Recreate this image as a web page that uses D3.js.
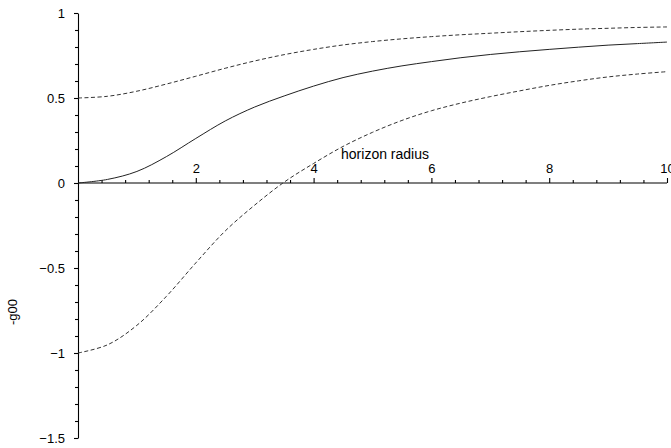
<!DOCTYPE html>
<html>
<head>
<meta charset="utf-8">
<script src="https://cdn.jsdelivr.net/npm/d3@7"></script>
<style>
    body { margin: 0; background: #fff; }
    svg { display: block; font-family: "Liberation Sans", Arial, sans-serif; }
</style>
</head>
<body>
<svg id="chart"></svg>
<script>
const radius = [0, 0.5, 1, 1.5, 2, 2.5, 3, 3.5, 4, 4.5, 5, 5.5, 6, 6.5, 7, 7.5, 8, 8.5, 9, 9.5, 10];
const g00 = [0, 0.021, 0.068, 0.155, 0.262, 0.365, 0.447, 0.512, 0.57, 0.62, 0.658, 0.689, 0.714, 0.737, 0.756, 0.772, 0.786, 0.799, 0.811, 0.82, 0.829];
const upper = [0.5, 0.51, 0.54, 0.582, 0.628, 0.675, 0.718, 0.755, 0.786, 0.812, 0.832, 0.848, 0.861, 0.872, 0.881, 0.89, 0.898, 0.905, 0.91, 0.915, 0.918];
const lower = [-1, -0.952, -0.837, -0.667, -0.47, -0.282, -0.13, 0.005, 0.115, 0.215, 0.298, 0.368, 0.425, 0.47, 0.508, 0.542, 0.574, 0.601, 0.624, 0.641, 0.655];

const xTicks = [2, 4, 6, 8, 10];
const yTicks = [-1.5, -1, -0.5, 0, 0.5, 1];

const width = 671, height = 448;

const svg = d3.select("#chart")
    .attr("width", width)
    .attr("height", height);

const xscale = d3.scaleLinear().domain([0, 10]).range([78, 667]);
const yscale = d3.scaleLinear().domain([-1.5, 1]).range([438, 13]);

// minor ticks first, then the main axes on top
const xMinor = d3.range(0, 10.001, 0.4).map(v => +v.toFixed(1)).filter(v => !xTicks.includes(v) && v > 0);
const yMinor = d3.range(-1.5, 1.001, 0.1).map(v => +v.toFixed(1)).filter(v => !yTicks.includes(v));

svg.append("g")
    .attr("transform", `translate(0, ${yscale(0)})`)
    .call(d3.axisTop(xscale).tickValues(xMinor).tickSize(3).tickFormat(""))
    .call(g => g.select(".domain").remove());

svg.append("g")
    .attr("transform", `translate(${xscale(0)}, 0)`)
    .call(d3.axisLeft(yscale).tickValues(yMinor).tickSize(3).tickFormat(""))
    .call(g => g.select(".domain").remove());

const xaxis = svg.append("g")
    .attr("transform", `translate(0, ${yscale(0)})`)
    .call(d3.axisTop(xscale).tickValues(xTicks).tickSize(5).tickSizeOuter(0).tickPadding(5).tickFormat(d3.format("d")));
xaxis.select(".domain").attr("d", `M${xscale(0)},0H${xscale(10)}`);

const yaxis = svg.append("g")
    .attr("transform", `translate(${xscale(0)}, 0)`)
    .call(d3.axisLeft(yscale).tickValues(yTicks).tickSize(4).tickSizeOuter(0).tickPadding(9).tickFormat(d3.format("")));

svg.selectAll(".tick text")
    .attr("font-size", 13)
    .attr("font-family", "Liberation Sans, Arial, sans-serif")
    .attr("fill", "#000");
svg.selectAll(".domain, .tick line").attr("stroke", "#000").attr("stroke-width", 1.1);

// curves
const line = d3.line()
    .x((d, i) => xscale(radius[i]))
    .y(d => yscale(d))
    .curve(d3.curveCatmullRom);

svg.append("path")
    .attr("d", line(g00))
    .attr("fill", "none")
    .attr("stroke", "#222")
    .attr("stroke-width", 1);

[upper, lower].forEach(s => {
    svg.append("path")
        .attr("d", line(s))
        .attr("fill", "none")
        .attr("stroke", "#333")
        .attr("stroke-width", 1)
        .attr("stroke-dasharray", "4,2.5");
});

// axis titles
svg.append("text")
    .attr("x", 385)
    .attr("y", 159)
    .attr("text-anchor", "middle")
    .attr("font-size", 14)
    .text("horizon radius");

svg.append("text")
    .attr("transform", "translate(17, 312) rotate(-90)")
    .attr("text-anchor", "middle")
    .attr("font-size", 13)
    .text("-g00");
</script>
</body>
</html>
